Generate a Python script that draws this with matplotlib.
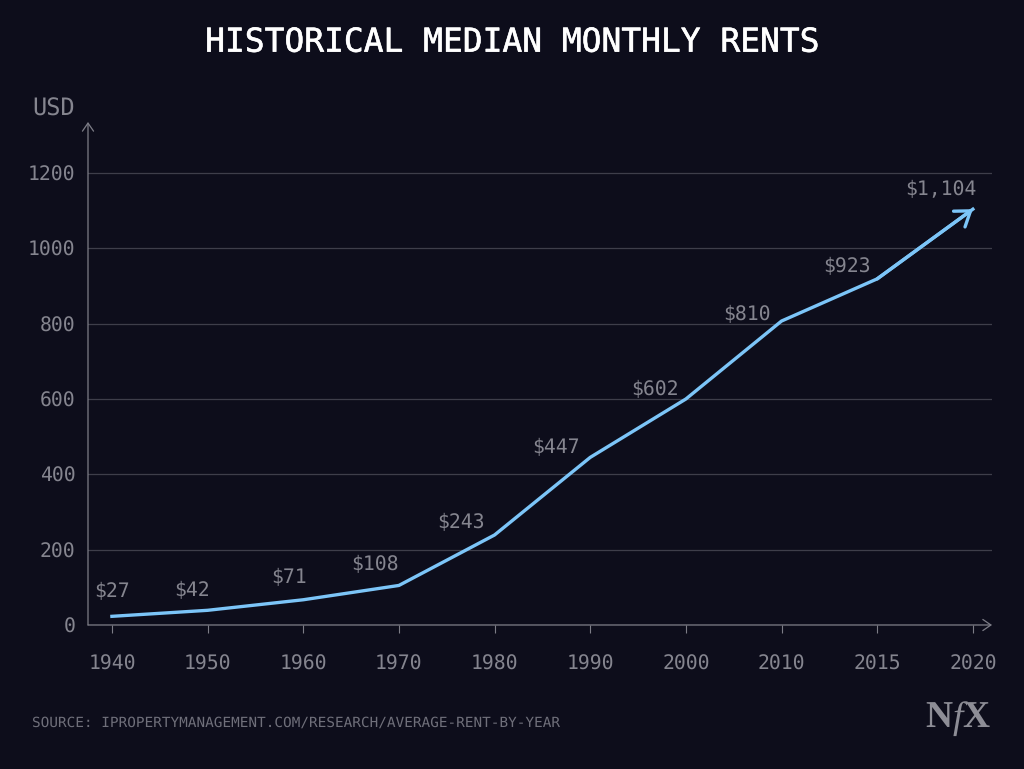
import matplotlib.patheffects as pe
import matplotlib.pyplot as plt
import numpy as np

YEARS = ["1940", "1950", "1960", "1970", "1980", "1990", "2000", "2010", "2015", "2020"]
# the drawn line sits slightly under the printed labels
LINE_VALUES = [23, 39, 67, 105, 239, 445, 600, 807, 919, 1104]
VALUE_LABELS = ["$27", "$42", "$71", "$108", "$243", "$447", "$602", "$810", "$923", "$1,104"]
Y_TICKS = [0, 200, 400, 600, 800, 1000, 1200]

BG = "#0d0d1b"
GREY = "#85858f"
AXIS = "#7d7d87"
GRID = "#3e3e4a"
BLUE = "#7cc5f8"
MONO = "DejaVu Sans Mono"

W, H = 1024, 769


def main() -> None:
    plt.rcParams["font.family"] = MONO
    plt.rcParams["text.hinting"] = "no_hinting"
    plt.rcParams["mathtext.fontset"] = "custom"
    plt.rcParams["mathtext.bf"] = "Liberation Serif:bold"
    plt.rcParams["mathtext.it"] = "Liberation Serif:italic"
    plt.rcParams["mathtext.rm"] = "Liberation Serif"

    fig = plt.figure(figsize=(W / 100, H / 100), dpi=100, facecolor=BG)
    ax = fig.add_axes([88 / W, (H - 625) / H, (992 - 88) / W, (625 - 122) / H], facecolor=BG)

    x = np.arange(len(YEARS))
    ax.set_xlim(-0.25, 9.2)
    ax.set_ylim(0, 503 / (452 / 1200))

    for spine in ax.spines.values():
        spine.set_visible(False)

    ax.set_yticks(Y_TICKS)
    ax.set_xticks(x, YEARS)
    ax.tick_params(axis="y", length=0, pad=9, labelsize=14.2, labelcolor=GREY)
    ax.tick_params(axis="x", length=6, width=0.8, color=AXIS, pad=15, labelsize=14.2, labelcolor=GREY)
    ax.grid(axis="y", color=GRID, linewidth=0.9)
    ax.set_axisbelow(True)

    # axis lines with open arrow heads
    axis_arrow = dict(arrowstyle="->,head_length=0.58,head_width=0.4", color=AXIS, lw=0.9, shrinkA=0, shrinkB=0)
    ax.annotate("", xy=(0, 1), xytext=(0, 0), xycoords="axes fraction", arrowprops=axis_arrow)
    ax.annotate("", xy=(1, 0), xytext=(0, 0), xycoords="axes fraction", arrowprops=axis_arrow)

    ax.plot(x, LINE_VALUES, color=BLUE, linewidth=2.4, solid_joinstyle="round", zorder=4)
    ax.annotate(
        "",
        xy=(x[-1], LINE_VALUES[-1]),
        xytext=(x[-2], LINE_VALUES[-2]),
        arrowprops=dict(arrowstyle="->,head_length=1.0,head_width=0.7", color=BLUE, lw=2.4, shrinkA=0, shrinkB=0),
        zorder=4,
    )

    # label offsets from each point, in points
    offsets = [(0, 18), (-11, 14), (-10, 16), (-17, 15), (-24, 9), (-25, 7), (-22, 7), (-25, 5), (-22, 9), (-23, 14)]
    for xi, value, label, offset in zip(x, LINE_VALUES, VALUE_LABELS, offsets):
        ax.annotate(
            label.replace("$", r"\$"),
            xy=(xi, value),
            xytext=offset,
            textcoords="offset points",
            ha="center",
            va="center",
            color=GREY,
            fontsize=14.2,
        )

    title = fig.text(512 / W, 1 - 42.5 / H, "HISTORICAL MEDIAN MONTHLY RENTS", color="white", fontsize=23.7,
                     ha="center", va="center")
    title.set_path_effects([pe.withStroke(linewidth=0.4, foreground="white")])
    fig.text(75 / W, 1 - 108.5 / H, "USD", color=GREY, fontsize=17, ha="right", va="center")
    fig.text(32 / W, 1 - 723 / H, "SOURCE: IPROPERTYMANAGEMENT.COM/RESEARCH/AVERAGE-RENT-BY-YEAR",
             color="#6f6f7a", fontsize=10.4, ha="left", va="center")

    # logo, one text so the f sits between the capitals
    fig.text(958 / W, 1 - 719 / H, r"$\mathbf{N}\mathit{f}\mathbf{X}$", color="#8d8d96", fontsize=27,
             ha="center", va="center")

    fig.savefig("out.png", dpi=100, facecolor=BG)
    plt.close(fig)


if __name__ == "__main__":
    main()
